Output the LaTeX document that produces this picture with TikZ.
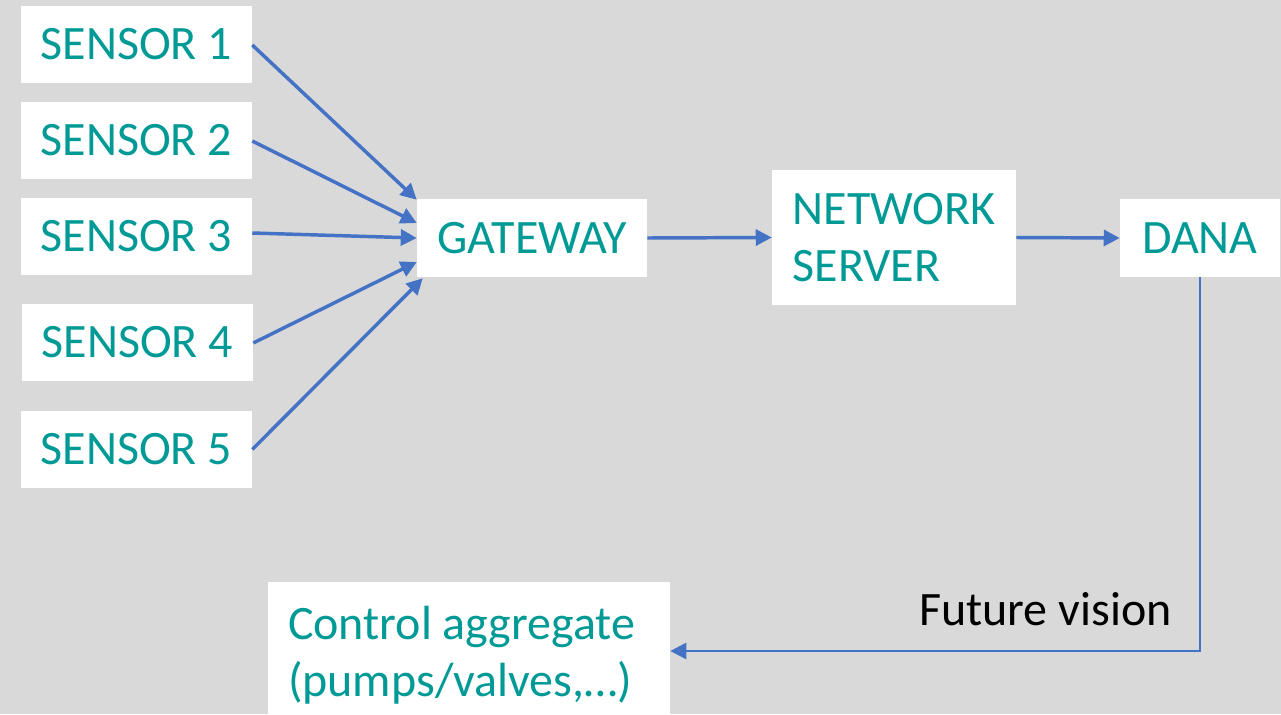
\documentclass[tikz,border=0pt]{standalone}
\usepackage{fontspec}
\setmainfont{Carlito}
\usetikzlibrary{arrows.meta,calc}
\definecolor{bgc}{HTML}{D9D9D9}
\definecolor{tealc}{HTML}{009A96}
\definecolor{arrc}{HTML}{4472C4}
\begin{document}
\begin{tikzpicture}[x=0.75pt,y=-0.75pt,
  box/.style={fill=white, draw=none, text=tealc, font=\fontsize{36}{43}\selectfont, inner sep=0pt, align=center},
  conn/.style={draw=arrc, line width=2.6pt, -{Triangle[length=12pt,width=12pt]}}]
\fill[bgc] (0,0) rectangle (1281,714);
\clip (0,0) rectangle (1281,714);
\node[box, minimum width=231*0.75pt, minimum height=77*0.75pt] (s1) at (136.5,44.5) {SENSOR 1};
\node[box, minimum width=231*0.75pt, minimum height=77*0.75pt] (s2) at (136.5,140.5) {SENSOR 2};
\node[box, minimum width=231*0.75pt, minimum height=77*0.75pt] (s3) at (136.5,236) {SENSOR 3};
\node[box, minimum width=231*0.75pt, minimum height=77*0.75pt] (s4) at (137.5,342) {SENSOR 4};
\node[box, minimum width=231*0.75pt, minimum height=77*0.75pt] (s5) at (136.5,449.5) {SENSOR 5};
\node[box, minimum width=230*0.75pt, minimum height=78*0.75pt] (gw) at (532,238) {GATEWAY};
\node[box, minimum width=244*0.75pt, minimum height=135*0.75pt, align=flush left] (ns) at (894,237.5) {NETWORK\\SERVER};
\node[box, minimum width=160*0.75pt, minimum height=78*0.75pt] (dana) at (1200,238) {DANA};
\node[box, inner xsep=20*0.75pt, text width=362*0.75pt, minimum height=146*0.75pt, align=flush left] (ctrl) at (469,655) {Control aggregate\\(pumps/valves,…)};
\node[anchor=base east, text=black, font=\fontsize{36}{43}\selectfont, inner sep=0pt] (fv) at (1172,625) {Future vision};
\draw[conn] ($(s1.east)+(0,0.5)$) -- ($(gw.north west)+(0,1)$);
\draw[conn] ($(s2.east)+(0,0.5)$) -- ($(gw.west)+(0,-15)$);
\draw[conn] ($(s3.east)+(0,-3)$) -- (gw.west);
\draw[conn] ($(s4.east)+(0,1)$) -- ($(gw.west)+(0,24)$);
\draw[conn] ($(s5.east)+(0,0)$) -- ($(gw.south west)+(6,1)$);
\draw[conn] (gw.east) -- (ns.west);
\draw[conn] (ns.east) -- (dana.west);
\draw[conn, line width=2pt] (dana.south) |- ($(ctrl.east)+(0,-4)$);
\end{tikzpicture}
\end{document}
